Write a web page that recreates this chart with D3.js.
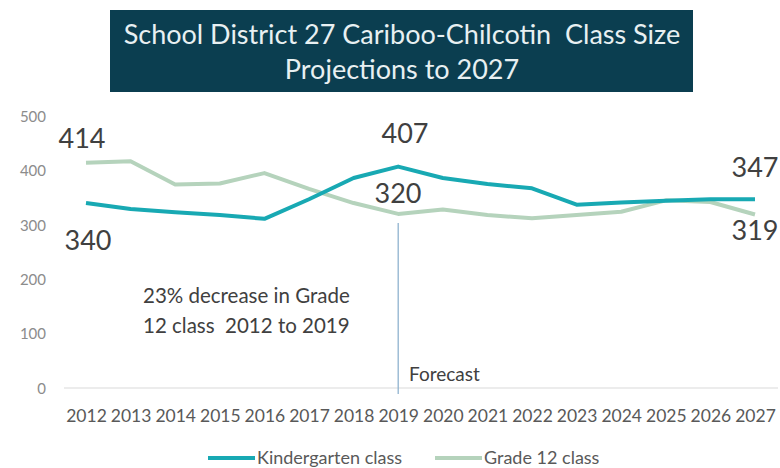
<!DOCTYPE html>
<html>
<head>
<meta charset="utf-8">
<script src="https://cdn.jsdelivr.net/npm/d3@7"></script>
<style>
  body { margin: 0; background: #fff; }
  text { font-family: Lato, "Open Sans", sans-serif; white-space: pre; }
</style>
</head>
<body>
<div class="chartHolder"></div>
<script>
var width = 780;
var height = 468;

var years = ["2012", "2013", "2014", "2015", "2016", "2017", "2018", "2019", "2020",
  "2021", "2022", "2023", "2024", "2025", "2026", "2027"];
var kindergarten = [340, 329, 323, 318, 311, 347, 386, 407, 386, 375, 367, 337, 341, 344, 347, 347];
var grade12 = [414, 417, 374, 376, 395, 366, 340, 320, 328, 318, 312, 318, 324, 345, 342, 319];
var yTicks = [0, 100, 200, 300, 400, 500];
var titleLines = ["School District 27 Cariboo-Chilcotin  Class Size", "Projections to 2027"];

var svg = d3
  .select(".chartHolder")
  .append("svg")
  .attr("width", width)
  .attr("height", height);

// title box
svg.append("rect")
  .attr("x", 110).attr("y", 10)
  .attr("width", 583).attr("height", 82)
  .attr("fill", "#0b3e50");

svg.selectAll(".title")
  .data(titleLines)
  .enter()
  .append("text")
  .attr("class", "title")
  .attr("x", 402)
  .attr("y", (d, i) => 44 + i * 35)
  .attr("text-anchor", "middle")
  .attr("fill", "#e8f0f2")
  .style("font-size", "27px")
  .text((d) => d);

var xScale = d3.scalePoint().domain(years).range([86, 755]);
var yScale = d3.scaleLinear().domain([0, 500]).range([388, 116]);

// y axis labels only
var yAxis = d3.axisLeft(yScale).tickValues(yTicks).tickSize(0).tickPadding(0);
var yG = svg.append("g").attr("transform", "translate(46,0)").call(yAxis);
yG.select(".domain").remove();
yG.selectAll("text").attr("fill", "#8c8c8c").style("font-size", "15px").attr("dy", "0.35em");

// baseline
svg.append("line")
  .attr("x1", 64).attr("x2", 778)
  .attr("y1", yScale(0)).attr("y2", yScale(0))
  .attr("stroke", "#d9d9d9").attr("stroke-width", 1.2);

// x axis
var xAxis = d3.axisBottom(xScale).tickSize(0).tickPadding(0);
var xG = svg.append("g").attr("transform", "translate(0,409)").call(xAxis);
xG.select(".domain").remove();
xG.selectAll("text").attr("fill", "#595959").style("font-size", "17.5px").attr("dy", "0.75em");

// forecast marker
svg.append("line")
  .attr("x1", xScale("2019")).attr("x2", xScale("2019"))
  .attr("y1", 223).attr("y2", 394)
  .attr("stroke", "#8fb3cf").attr("stroke-width", 1.3);
svg.append("text")
  .attr("x", 409).attr("y", 381)
  .attr("fill", "#404040").style("font-size", "19px")
  .text("Forecast");

// annotation
svg.selectAll(".note")
  .data(["23% decrease in Grade", "12 class  2012 to 2019"])
  .enter()
  .append("text")
  .attr("class", "note")
  .attr("x", 143)
  .attr("y", (d, i) => 303 + i * 30)
  .attr("fill", "#404040")
  .style("font-size", "20.5px")
  .text((d) => d);

var line = d3.line()
  .x((d, i) => xScale(years[i]))
  .y((d) => yScale(d));

svg.append("path")
  .datum(grade12)
  .attr("d", line)
  .attr("fill", "none")
  .attr("stroke", "#b5d3bc")
  .attr("stroke-width", 4)
  .attr("stroke-linejoin", "round");

svg.append("path")
  .datum(kindergarten)
  .attr("d", line)
  .attr("fill", "none")
  .attr("stroke", "#18a9b3")
  .attr("stroke-width", 4)
  .attr("stroke-linejoin", "round");

// value labels
var labels = [
  { v: "414", x: 82, y: 148 },
  { v: "340", x: 88, y: 250 },
  { v: "407", x: 405, y: 143 },
  { v: "320", x: 398, y: 203 },
  { v: "347", x: 755, y: 177 },
  { v: "319", x: 755, y: 240 }
];
svg.selectAll(".val")
  .data(labels)
  .enter()
  .append("text")
  .attr("class", "val")
  .attr("x", (d) => d.x)
  .attr("y", (d) => d.y)
  .attr("text-anchor", "middle")
  .attr("fill", "#404040")
  .style("font-size", "27px")
  .text((d) => d.v);

// legend
var legend = [
  { name: "Kindergarten class", color: "#18a9b3", x: 208 },
  { name: "Grade 12 class", color: "#b5d3bc", x: 435 }
];
var lg = svg.selectAll(".legend")
  .data(legend)
  .enter()
  .append("g")
  .attr("class", "legend")
  .attr("transform", (d) => "translate(" + d.x + ",458)");
lg.append("line")
  .attr("x1", 0).attr("x2", 47)
  .attr("stroke", (d) => d.color)
  .attr("stroke-width", 4);
lg.append("text")
  .attr("x", 49).attr("dy", "0.35em")
  .attr("fill", "#595959")
  .style("font-size", "18px")
  .text((d) => d.name);
</script>
</body>
</html>
